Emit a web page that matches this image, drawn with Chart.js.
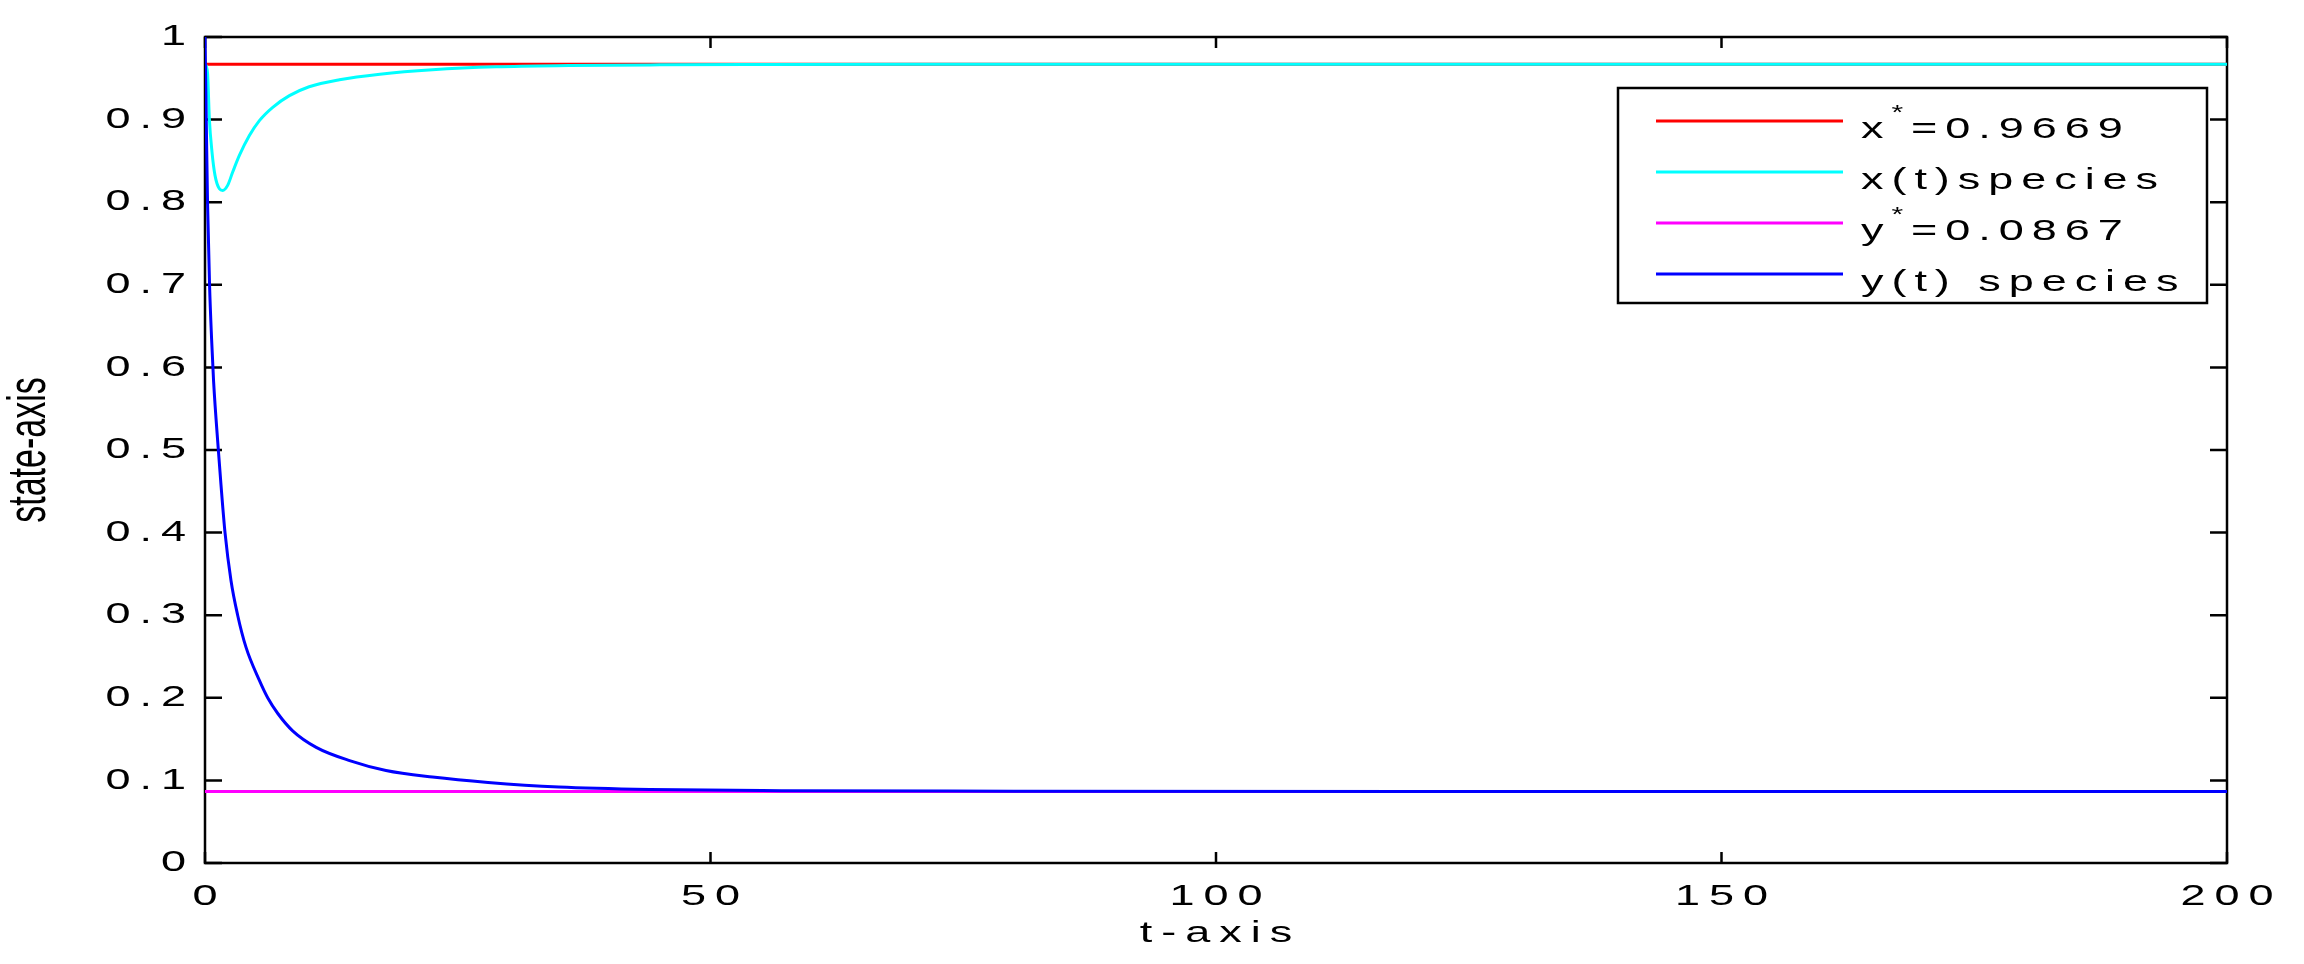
<!DOCTYPE html>
<html><head><meta charset="utf-8">
<script src="https://cdn.jsdelivr.net/npm/chart.js@4.4.0/dist/chart.umd.min.js"></script>
<style>html,body{margin:0;padding:0;background:#fff;}canvas{display:block;}</style>
</head><body>
<canvas id="c" width="2304" height="964"></canvas>
<script>
// ---- data ----
const tX = [0, 0.16, 0.26, 0.43, 0.69, 0.99, 1.42, 1.75, 2.24, 2.74, 3.4, 4.39, 5.38, 6.7, 8.35, 10.3, 13.3, 17.3, 22.5, 28.8, 36, 45, 55, 70, 200];
const xValues = [0.968, 0.963, 0.955, 0.901, 0.861, 0.8325, 0.8163, 0.8143, 0.8204, 0.8365, 0.8566, 0.8807, 0.8988, 0.9149, 0.929, 0.9398, 0.9483, 0.955, 0.9604, 0.964, 0.9655, 0.9663, 0.9667, 0.9669, 0.9669];
const tY = [0, 0.1, 0.25, 0.45, 0.65, 0.85, 1.32, 1.58, 1.98, 2.57, 3.23, 4.06, 5.38, 6.2, 7.2, 8.67, 11, 14.3, 17.9, 22.5, 28, 35, 44, 57, 80, 120, 200];
const yValues = [1.0, 0.92, 0.8, 0.7, 0.635, 0.583, 0.5, 0.458, 0.4, 0.342, 0.3, 0.261, 0.221, 0.2, 0.181, 0.16, 0.14, 0.124, 0.112, 0.104, 0.0975, 0.092, 0.089, 0.0876, 0.087, 0.0867, 0.0867];
const xStar = 0.9669;
const yStar = 0.0867;
const tRange = [0, 200];
const xTicks = [0, 50, 100, 150, 200];
const yTicks = [0, 0.1, 0.2, 0.3, 0.4, 0.5, 0.6, 0.7, 0.8, 0.9, 1];
const seriesLabels = ['x*=0.9669', 'x(t)species', 'y*=0.0867', 'y(t) species'];
const seriesColors = ['#ff0000', '#00ffff', '#ff00ff', '#0000ff'];
const xTitle = 't-axis';
const yTitle = 'state-axis';

const FONT = "'Liberation Sans', Arial, sans-serif";
const WIDE = {sx: 1.5, sy: 1, ls: 6};     // wide, spaced text like the reference
const LEG = {sx: 1.5, sy: 1, ls: 5.3};    // legend text
const TALL = {sx: 1, sy: 1.6, ls: 0};     // narrow/tall rotated y title
let textMode = null;

function installWrapper(ctx) {
  if (ctx.__wrapped) return;
  const orig = ctx.fillText;
  ctx.fillText = function (text, x, y) {
    const m = textMode;
    if (!m) return orig.call(this, text, x, y);
    const s = String(text);
    this.save();
    this.letterSpacing = '0px';
    const raw = this.measureText(s).width;
    const w = (raw + Math.max(0, s.length - 1) * m.ls) * m.sx;
    const align = this.textAlign;
    let x0 = x;
    if (align === 'right' || align === 'end') x0 = x - w;
    else if (align === 'center') x0 = x - w / 2;
    this.textAlign = 'left';
    this.letterSpacing = m.ls + 'px';
    this.translate(x0, y);
    this.scale(m.sx, m.sy);
    orig.call(this, s, 0, 0);
    this.restore();
  };
  ctx.__wrapped = true;
}

const pts = (ts, vs) => ts.map((t, i) => ({x: t, y: vs[i]}));
const flat = v => tRange.map(t => ({x: t, y: v}));

const framePlugin = {
  id: 'frame',
  beforeDraw(chart) {
    installWrapper(chart.ctx);
    textMode = WIDE;
    const ys = chart.scales.y;
    if (ys && !ys.__patched) {
      const orig = ys.drawTitle;
      ys.drawTitle = function (...args) {
        textMode = TALL;
        orig.apply(this, args);
        textMode = WIDE;
      };
      ys.__patched = true;
    }
  },
  beforeDatasetsDraw(chart) {
    const {ctx, chartArea: a, scales: {x, y}} = chart;
    ctx.save();
    ctx.strokeStyle = '#000';
    ctx.lineWidth = 2.5;
    ctx.strokeRect(a.left, a.top, a.right - a.left, a.bottom - a.top);
    ctx.beginPath();
    x.ticks.forEach(t => {
      const px = x.getPixelForValue(t.value);
      ctx.moveTo(px, a.bottom); ctx.lineTo(px, a.bottom - 11);
      ctx.moveTo(px, a.top); ctx.lineTo(px, a.top + 11);
    });
    y.ticks.forEach(t => {
      const py = y.getPixelForValue(t.value);
      ctx.moveTo(a.left, py); ctx.lineTo(a.left + 17, py);
      ctx.moveTo(a.right, py); ctx.lineTo(a.right - 17, py);
    });
    ctx.stroke();
    ctx.restore();
  },
  afterDatasetsDraw(chart) {
    const {ctx, chartArea: a} = chart;
    const right = a.right - 20, top = a.top + 51;
    const w = 589, h = 215;
    const left = right - w;
    const adv = (s) => (ctx.measureText(s).width + s.length * LEG.ls) * LEG.sx;
    ctx.save();
    ctx.fillStyle = '#fff';
    ctx.fillRect(left, top, w, h);
    ctx.strokeStyle = '#000';
    ctx.lineWidth = 2.5;
    ctx.strokeRect(left, top, w, h);
    textMode = LEG;
    chart.data.datasets.forEach((ds, i) => {
      const ly = top + 33 + i * 51;
      ctx.strokeStyle = ds.borderColor;
      ctx.lineWidth = 3;
      ctx.beginPath();
      ctx.moveTo(left + 38, ly); ctx.lineTo(left + 225, ly);
      ctx.stroke();
      ctx.fillStyle = '#000';
      ctx.textBaseline = 'alphabetic';
      ctx.textAlign = 'left';
      let cx = left + 243;
      const by = ly + 17;
      const label = ds.label;
      const k = label.indexOf('*');
      ctx.font = '30px ' + FONT;
      if (k >= 0) {
        const base = label.slice(0, k), rest = label.slice(k + 1);
        ctx.fillText(base, cx, by);
        cx += adv(base);
        ctx.font = '20px ' + FONT;
        ctx.fillText('*', cx, by - 19);
        cx += adv('*');
        ctx.font = '30px ' + FONT;
        ctx.fillText(rest, cx, by);
      } else {
        ctx.fillText(label, cx, by);
      }
    });
    textMode = WIDE;
    ctx.restore();
  }
};

new Chart(document.getElementById('c'), {
  type: 'line',
  data: {
    datasets: [
      {label: seriesLabels[0], data: flat(xStar), borderColor: seriesColors[0], order: 4},
      {label: seriesLabels[1], data: pts(tX, xValues), borderColor: seriesColors[1], order: 2},
      {label: seriesLabels[2], data: flat(yStar), borderColor: seriesColors[2], order: 3},
      {label: seriesLabels[3], data: pts(tY, yValues), borderColor: seriesColors[3], order: 1}
    ]
  },
  options: {
    responsive: false,
    animation: false,
    devicePixelRatio: 1,
    layout: {padding: {top: 34, right: 77, left: 0, bottom: 0}},
    plugins: {legend: {display: false}, tooltip: {enabled: false}},
    elements: {
      point: {radius: 0},
      line: {borderWidth: 3, fill: false, cubicInterpolationMode: 'monotone'}
    },
    scales: {
      x: {
        type: 'linear', min: tRange[0], max: tRange[1],
        afterBuildTicks: s => { s.ticks = xTicks.map(v => ({value: v})); },
        afterFit: s => { s.height = 101; },
        grid: {display: false, drawTicks: false},
        border: {display: false},
        ticks: {font: {family: FONT, size: 30}, color: '#000', padding: 16, maxRotation: 0, autoSkip: false},
        title: {display: true, text: xTitle, color: '#000', font: {family: FONT, size: 30}, padding: {top: 0, bottom: 12}}
      },
      y: {
        type: 'linear', min: 0, max: 1,
        afterBuildTicks: s => { s.ticks = yTicks.map(v => ({value: v})); },
        afterFit: s => { s.width = 205; },
        grid: {display: false, drawTicks: false},
        border: {display: false},
        ticks: {font: {family: FONT, size: 30}, color: '#000', padding: 19, autoSkip: false,
                callback: v => String(Number(v.toFixed(1)))},
        title: {display: true, text: yTitle, color: '#000',
                font: {family: FONT, size: 34},
                padding: {top: 10, bottom: 0}}
      }
    }
  },
  plugins: [framePlugin]
});
</script>
</body></html>
